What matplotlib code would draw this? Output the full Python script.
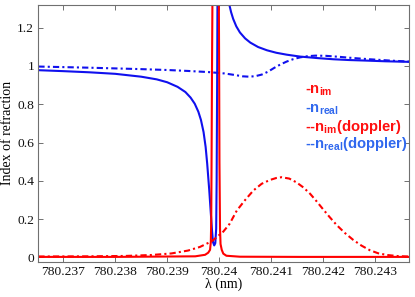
import matplotlib
matplotlib.use("Agg")
import matplotlib.pyplot as plt
from matplotlib.ticker import FixedLocator

plt.rcParams['mathtext.fontset'] = 'custom'
plt.rcParams['mathtext.rm'] = 'Liberation Sans:bold'
plt.rcParams['mathtext.it'] = 'Liberation Sans:bold'
plt.rcParams['mathtext.bf'] = 'Liberation Sans:bold'

# ---- data (wavelength in nm) ----
lam_real = [780.23652, 780.23700, 780.23750, 780.23800, 780.23850, 780.23880,
            780.23900, 780.23920, 780.23935, 780.23945, 780.23953, 780.23960,
            780.23965, 780.23970, 780.23974, 780.23977, 780.23979, 780.23981,
            780.239835, 780.239863, 780.239882, 780.239905, 780.239926,
            780.239943, 780.239952, 780.239963, 780.239977, 780.24000,
            780.24005, 780.24010, 780.24014, 780.24019, 780.24023, 780.24027,
            780.24033, 780.24040, 780.24050, 780.24060, 780.24075, 780.24092,
            780.24110, 780.24130, 780.24156, 780.24190, 780.24220, 780.24250,
            780.24284, 780.24320, 780.24366]
n_real = [0.978, 0.973, 0.967, 0.959, 0.944, 0.930,
          0.915, 0.891, 0.864, 0.835, 0.803, 0.761,
          0.718, 0.655, 0.577, 0.490, 0.420, 0.350,
          0.25, 0.14, 0.08, 0.063, 0.075,
          0.15, 0.40, 1.0, 2.0, 3.0,
          1.80, 1.55, 1.42, 1.327, 1.281, 1.246,
          1.207, 1.175, 1.144, 1.122, 1.099, 1.082,
          1.069, 1.059, 1.049, 1.041, 1.035, 1.031,
          1.028, 1.0245, 1.0215]

lam_im = [780.23652, 780.23800, 780.23900, 780.23954, 780.23973, 780.23979,
          780.239825, 780.23984, 780.239848, 780.239854, 780.239863, 780.239877,
          780.239944, 780.23999, 780.24000, 780.240006, 780.240017, 780.240027,
          780.24005, 780.24008, 780.24014, 780.24040, 780.24156, 780.24366]
n_im = [0.003, 0.003, 0.005, 0.006, 0.014, 0.025,
        0.04, 0.08, 0.2, 0.5, 1.0, 1.6,
        3.0, 1.6, 1.0, 0.5, 0.15, 0.07,
        0.04, 0.02, 0.009, 0.004, 0.003, 0.003]

lam_dop = [780.23652, 780.23750, 780.23820, 780.23870, 780.23908, 780.23940,
           780.23963, 780.23986, 780.24008, 780.24020, 780.24034, 780.24050,
           780.24066, 780.24082, 780.24098, 780.24110, 780.24120, 780.24135,
           780.24149, 780.24162, 780.24175, 780.24188, 780.24200, 780.24213,
           780.24226, 780.24242, 780.24258, 780.24274, 780.24290, 780.24306,
           780.24323, 780.24345, 780.24366]
n_im_dop = [0.005, 0.006, 0.008, 0.013, 0.021, 0.036,
            0.055, 0.085, 0.135, 0.175, 0.245, 0.300,
            0.350, 0.385, 0.405, 0.415, 0.419, 0.412,
            0.392, 0.366, 0.333, 0.292, 0.252, 0.210,
            0.170, 0.128, 0.092, 0.062, 0.038, 0.022,
            0.013, 0.007, 0.005]

lam_dop_r = [780.23652, 780.23750, 780.23844, 780.23900, 780.23940, 780.23980,
             780.24010, 780.24030, 780.24045, 780.24058, 780.24070, 780.24082,
             780.24094, 780.24106, 780.24118, 780.24130, 780.24143, 780.24156,
             780.24170, 780.24185, 780.24205, 780.24230, 780.24260, 780.24290,
             780.24330, 780.24366]
n_real_dop = [0.997, 0.991, 0.984, 0.979, 0.974, 0.968,
              0.961, 0.953, 0.946, 0.944, 0.947, 0.955,
              0.970, 0.990, 1.008, 1.023, 1.036, 1.045,
              1.051, 1.054, 1.053, 1.048, 1.041, 1.035,
              1.028, 1.023]

xticks = [780.237, 780.238, 780.239, 780.240, 780.241, 780.242, 780.243]
xticklabels = ['780.237', '780.238', '780.239', '780.24', '780.241', '780.242', '780.243']
yticks = [0, 0.2, 0.4, 0.6, 0.8, 1.0, 1.2]
yticklabels = ['0', '0.2', '0.4', '0.6', '0.8', '1', '1.2']

legend_labels = [r'-n$_{\rm im}$', r'-n$_{\rm real}$',
                 r'--n$_{\rm im}$(doppler)', r'--n$_{\rm real}$(doppler)']
legend_colors = ['#ff1010', '#3068ee', '#ff1010', '#3068ee']

# ---- figure ----
fig = plt.figure(figsize=(4.15, 2.97), dpi=100)
ax = fig.add_axes([0.0923, 0.1189, 0.8944, 0.8653])

blue = '#1010ee'
red = '#ff0000'
dd = (0, (3, 1.5, 1, 1.5))
ax.plot(lam_real, n_real, color=blue, lw=1.5, solid_joinstyle='round')
ax.plot(lam_dop_r, n_real_dop, color=blue, lw=1.5, linestyle=dd)
ax.plot(lam_dop, n_im_dop, color=red, lw=1.5, linestyle=dd)
ax.plot(lam_im, n_im, color=red, lw=1.5, solid_joinstyle='round')

ax.set_xlim(780.236519, 780.243664)
ax.set_ylim(-0.022, 1.32)
ax.xaxis.set_major_locator(FixedLocator(xticks))
ax.set_xticklabels(xticklabels)
ax.yaxis.set_major_locator(FixedLocator(yticks))
ax.set_yticklabels(yticklabels)

serif = 'Liberation Serif'
for lab in ax.get_xticklabels() + ax.get_yticklabels():
    lab.set_fontfamily(serif)
    lab.set_fontsize(9.7)
ax.tick_params(direction='in', length=3.5, width=0.7, colors='#707070',
               labelcolor='#111111', top=True, right=True, pad=3)
for s in ax.spines.values():
    s.set_color('#707070')
    s.set_linewidth(0.8)

ax.set_xlabel('λ (nm)', family=serif, fontsize=10, labelpad=0)
ax.set_ylabel('Index of refraction', family=serif, fontsize=10, labelpad=2)

ys = [0.6525, 0.5813, 0.5097, 0.4412]
for lab, col, y in zip(legend_labels, legend_colors, ys):
    ax.text(0.7185, y, lab, transform=ax.transAxes, color=col,
            family='Liberation Sans', fontweight='bold', fontsize=10.6,
            va='baseline', ha='left')

fig.savefig('out.png', dpi=100)
